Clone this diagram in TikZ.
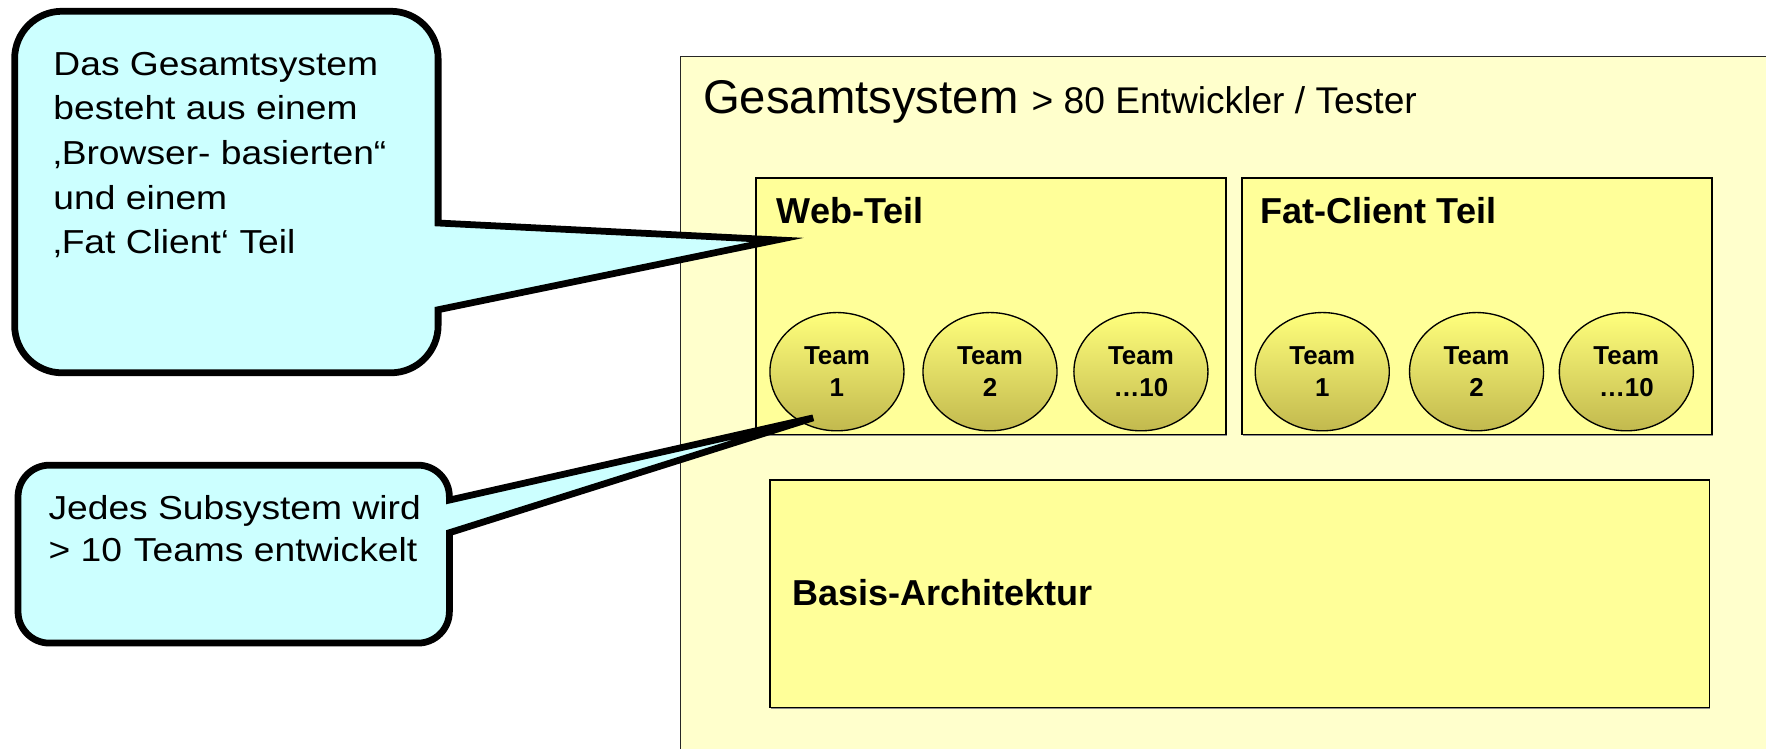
\documentclass[tikz,border=0pt]{standalone}
\usepackage{fontspec}
\setmainfont{Liberation Sans}
\newfontfamily\callfont[FakeStretch=1.12]{Liberation Sans}
\usetikzlibrary{shapes.geometric}

\definecolor{outerfill}{HTML}{FFFFCC}
\definecolor{innerfill}{HTML}{FFFF99}
\definecolor{callfill}{HTML}{CCFFFF}
\definecolor{teamtop}{HTML}{FFFF7C}
\definecolor{teambot}{HTML}{C2B94E}

\tikzset{
  outerbox/.style={draw=black!85, line width=1.3pt, fill=outerfill, inner sep=0pt, anchor=north west},
  partbox/.style={draw=black, line width=1.6pt, fill=innerfill, inner sep=0pt, anchor=north west},
  boxshadow/.style={fill=black!45},
  team/.style={ellipse, draw=black, line width=1.2pt, top color=teamtop, bottom color=teambot,
    minimum width=119pt, minimum height=105pt, inner sep=0pt, align=center,
    font=\fontsize{23}{28}\selectfont\bfseries},
  callout/.style={draw=black, line width=6pt, fill=callfill},
  calltext/.style={anchor=base west, inner sep=0pt, font=\callfont\fontsize{29.5}{39.5}\selectfont},
  parttitle/.style={anchor=base west, inner sep=0pt, font=\fontsize{32}{38}\selectfont\bfseries},
}

\begin{document}
\begin{tikzpicture}[x=1pt,y=1pt]
\useasboundingbox (0,0) rectangle (1568,-665);
\clip (0,0) rectangle (1568,-665);

% whole system frame
\node[outerbox, minimum width=1000pt, minimum height=660pt] (gesamt) at (603.7,-49.7) {};
\node[anchor=base west, inner sep=0pt] (title) at (624,-100.6)
  {\fontsize{42}{50}\selectfont Gesamtsystem \fontsize{33}{40}\selectfont > 80 Entwickler / Tester};

% subsystems
\fill[boxshadow] (672,-158.6) rectangle (1089.8,-386.8);
\node[partbox, minimum width=417.7pt, minimum height=228.1pt] (web) at (670.3,-156.9) {};
\fill[boxshadow] (1103.7,-158.6) rectangle (1520.7,-386.8);
\node[partbox, minimum width=417pt, minimum height=228.1pt] (fat) at (1102,-156.9) {};
\fill[boxshadow] (684.7,-427.3) rectangle (1518.7,-629.1);
\node[partbox, minimum width=834pt, minimum height=201.8pt] (basis) at (683,-425.6) {};

\node[parttitle] (webtitle) at (689.6,-198.3) {Web-Teil};
\node[parttitle] (fattitle) at (1119,-198.3) {Fat-Client Teil};
\node[parttitle] (basistitle) at (703,-538) {Basis-Architektur};

% teams
\node[team] (w1) at (743.1,-330) {Team\\1};
\node[team] (w2) at (879,-330) {Team\\2};
\node[team] (w3) at (1013,-330) {Team\\…10};
\node[team] (f1) at (1174,-330) {Team\\1};
\node[team] (f2) at (1311,-330) {Team\\2};
\node[team] (f3) at (1444,-330) {Team\\…10};

% callout on the overall structure
\coordinate (tipA) at (690,-213);
\draw[callout] (55,-10) -- (347,-10) arc[start angle=90,end angle=0,radius=42]
  -- (389,-198) -- (tipA) -- (389,-275) -- (389,-289)
  arc[start angle=0,end angle=-90,radius=42] -- (55,-331)
  arc[start angle=270,end angle=180,radius=42] -- (13,-52)
  arc[start angle=180,end angle=90,radius=42] -- cycle;
\node[calltext] (a1) at (47.3,-66.6) {Das Gesamtsystem};
\node[calltext] (a2) at (47.3,-106.4) {besteht aus einem};
\node[calltext] (a3) at (47.3,-146.1) {‚Browser- basierten“};
\node[calltext] (a4) at (47.3,-185.8) {und einem};
\node[calltext] (a5) at (47.3,-225.4) {‚Fat Client‘ Teil};

% callout on the teams
\coordinate (tipB) at (722,-371);
\draw[callout] (44,-413) -- (371,-413) arc[start angle=90,end angle=0,radius=28]
  -- (399,-444) -- (tipB) -- (399,-473) -- (399,-543)
  arc[start angle=0,end angle=-90,radius=28] -- (44,-571)
  arc[start angle=270,end angle=180,radius=28] -- (16,-441)
  arc[start angle=180,end angle=90,radius=28] -- cycle;
\node[calltext] (b1) at (42.9,-461) {Jedes Subsystem wird};
\node[calltext] (b2) at (42.9,-498.7) {> 10\hspace{0.36em}Teams entwickelt};
\end{tikzpicture}
\end{document}
